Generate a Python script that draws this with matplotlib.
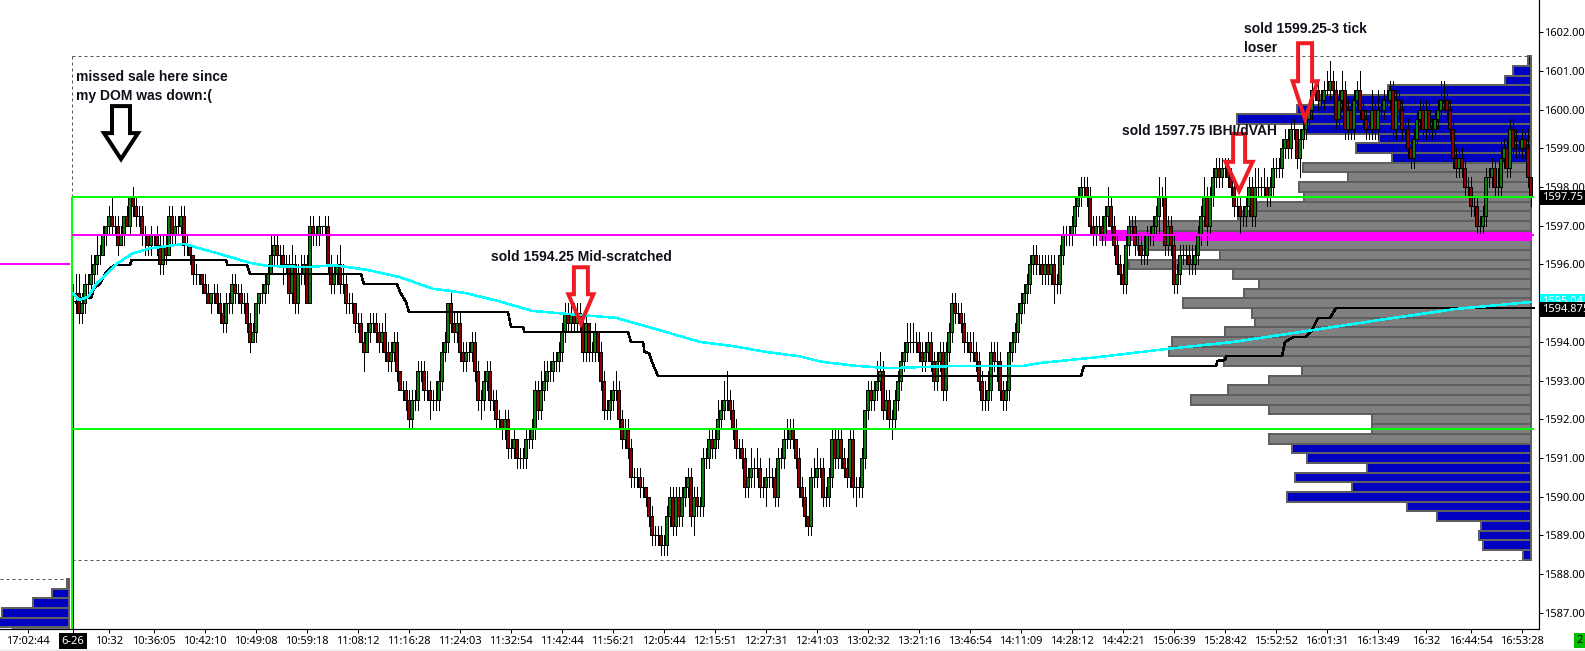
"""
plot.py
Redraws the ES day-session chart: candles, volume profile, value area and trade notes.
"""
import numpy as np
import matplotlib
matplotlib.use('Agg')
import matplotlib.pyplot as plt
from matplotlib.patches import Polygon, Rectangle

# === DATA ===
TICK = 0.25
BASE_PRICE = 1587.0

# closes of the 487 bars, in ticks above BASE_PRICE (each bar opens at the previous close)
close_ticks = [
    33, 33, 31, 32, 34, 34, 35, 36, 37, 37, 39, 40, 41, 40, 40, 38, 39, 41, 40, 43,
    42, 41, 41, 39, 39, 38, 39, 39, 38, 36, 38, 37, 41, 39, 40, 40, 41, 38, 38, 37,
    35, 35, 35, 34, 33, 32, 33, 33, 32, 31, 30, 32, 32, 34, 33, 33, 32, 32, 30, 28,
    29, 32, 33, 33, 34, 35, 37, 38, 37, 37, 36, 36, 33, 36, 32, 35, 35, 36, 32, 40,
    39, 39, 40, 40, 40, 36, 34, 35, 36, 34, 34, 32, 32, 32, 30, 30, 28, 27, 29, 30,
    30, 29, 28, 29, 27, 26, 27, 28, 25, 23, 23, 22, 20, 22, 22, 25, 25, 23, 23, 22,
    22, 22, 24, 27, 28, 32, 30, 29, 30, 27, 26, 27, 27, 28, 25, 22, 22, 24, 25, 22,
    22, 20, 20, 19, 20, 17, 17, 18, 16, 16, 16, 18, 18, 19, 23, 21, 23, 24, 25, 25,
    26, 26, 27, 29, 31, 30, 31, 30, 31, 30, 27, 30, 27, 27, 29, 27, 24, 21, 21, 22,
    23, 23, 20, 18, 19, 17, 14, 14, 14, 13, 13, 12, 10, 8, 8, 8, 7, 7, 10, 12,
    9, 12, 10, 12, 13, 14, 10, 12, 11, 11, 16, 16, 18, 17, 18, 20, 21, 22, 22, 21,
    19, 17, 17, 16, 13, 14, 15, 15, 15, 13, 13, 14, 14, 14, 12, 16, 16, 18, 18, 19,
    18, 16, 13, 12, 10, 9, 14, 14, 15, 15, 12, 12, 14, 18, 16, 18, 16, 15, 14, 18,
    13, 13, 13, 16, 21, 23, 22, 23, 24, 25, 21, 22, 20, 20, 22, 24, 26, 27, 28, 28,
    28, 28, 27, 26, 27, 28, 26, 24, 26, 27, 23, 27, 29, 32, 31, 31, 30, 28, 28, 27,
    27, 26, 24, 22, 22, 23, 27, 26, 26, 23, 22, 23, 27, 28, 29, 31, 32, 33, 34, 36,
    37, 36, 36, 35, 36, 35, 36, 34, 34, 37, 39, 39, 39, 40, 42, 43, 44, 44, 43, 40,
    39, 40, 40, 39, 41, 42, 40, 38, 36, 35, 34, 38, 40, 40, 38, 38, 37, 37, 39, 39,
    40, 41, 43, 43, 38, 40, 38, 34, 35, 37, 37, 37, 36, 36, 37, 39, 41, 43, 40, 43,
    45, 46, 45, 46, 46, 45, 44, 42, 42, 41, 41, 42, 44, 41, 44, 44, 44, 44, 43, 44,
    46, 46, 46, 48, 49, 48, 50, 50, 47, 49, 50, 51, 52, 54, 54, 53, 53, 54, 54, 55,
    54, 51, 53, 54, 50, 52, 50, 53, 54, 52, 51, 50, 50, 52, 50, 52, 52, 53, 53, 54,
    50, 53, 52, 50, 50, 48, 47, 49, 51, 52, 50, 52, 50, 50, 51, 52, 53, 53, 52, 50,
    47, 46, 47, 46, 44, 44, 42, 42, 40, 40, 41, 45, 45, 46, 44, 44, 47, 48, 46, 50,
    48, 48, 48, 49, 48, 45, 43,
]
# wick length above and below each body, in ticks
wick_up = [
    1, 2, 2, 1, 1, 1, 2, 1, 2, 1, 1, 0, 1, 2, 1, 1, 1, 0, 1, 0,
    1, 1, 1, 1, 1, 0, 1, 0, 1, 1, 1, 1, 1, 1, 1, 1, 1, 1, 1, 0,
    0, 1, 0, 0, 1, 1, 0, 1, 1, 1, 1, 1, 1, 1, 1, 1, 1, 1, 1, 1,
    1, 0, 0, 1, 1, 1, 2, 1, 1, 1, 1, 1, 1, 2, 1, 1, 2, 1, 1, 1,
    1, 1, 1, 0, 1, 1, 1, 1, 1, 2, 2, 1, 1, 1, 0, 1, 1, 1, 1, 1,
    1, 1, 1, 1, 2, 1, 1, 1, 1, 0, 1, 1, 1, 1, 1, 1, 1, 1, 2, 1,
    1, 2, 1, 1, 1, 0, 1, 1, 1, 1, 1, 1, 1, 1, 1, 1, 1, 1, 1, 1,
    1, 1, 1, 0, 1, 1, 1, 1, 0, 1, 1, 1, 1, 1, 1, 1, 2, 2, 1, 1,
    1, 1, 1, 1, 1, 1, 1, 1, 1, 1, 1, 1, 0, 1, 1, 0, 1, 1, 1, 1,
    1, 2, 1, 1, 1, 1, 1, 1, 1, 1, 1, 0, 0, 1, 1, 1, 1, 1, 1, 1,
    1, 1, 1, 1, 1, 1, 1, 1, 1, 1, 1, 1, 1, 1, 1, 2, 1, 2, 3, 1,
    1, 1, 1, 1, 1, 1, 2, 1, 2, 1, 1, 1, 2, 1, 1, 1, 1, 1, 2, 1,
    1, 0, 1, 1, 1, 0, 1, 2, 2, 1, 1, 1, 1, 1, 1, 1, 1, 1, 1, 1,
    1, 1, 1, 1, 0, 1, 1, 1, 2, 2, 1, 1, 1, 1, 1, 1, 1, 1, 2, 2,
    2, 1, 1, 1, 1, 1, 1, 1, 1, 1, 1, 1, 1, 1, 1, 1, 1, 1, 1, 1,
    2, 1, 1, 1, 2, 2, 1, 1, 2, 1, 1, 1, 1, 1, 1, 1, 1, 1, 1, 1,
    1, 1, 1, 1, 1, 1, 1, 1, 1, 1, 1, 1, 1, 1, 1, 1, 1, 1, 1, 1,
    1, 1, 1, 1, 1, 2, 1, 1, 1, 1, 1, 1, 1, 1, 1, 1, 1, 2, 1, 1,
    1, 1, 2, 1, 2, 1, 1, 1, 1, 1, 1, 1, 1, 2, 1, 1, 1, 2, 1, 1,
    1, 1, 1, 1, 1, 1, 1, 1, 1, 1, 1, 1, 1, 1, 2, 2, 1, 2, 1, 1,
    1, 1, 1, 1, 1, 1, 1, 1, 0, 1, 1, 1, 1, 1, 1, 1, 1, 1, 2, 2,
    1, 1, 1, 2, 1, 1, 1, 1, 1, 2, 1, 1, 1, 2, 1, 2, 1, 1, 1, 1,
    1, 1, 1, 1, 1, 1, 1, 1, 1, 1, 1, 1, 1, 1, 1, 1, 2, 2, 1, 1,
    1, 1, 1, 1, 1, 1, 1, 1, 1, 1, 1, 1, 1, 1, 1, 2, 2, 1, 1, 1,
    1, 2, 1, 1, 1, 2, 0,
]
wick_down = [
    35, 2, 1, 1, 1, 1, 1, 1, 1, 1, 0, 1, 1, 1, 1, 1, 0, 1, 0, 1,
    1, 1, 1, 1, 2, 1, 1, 1, 1, 1, 1, 1, 0, 1, 1, 1, 1, 1, 1, 1,
    1, 1, 1, 1, 0, 0, 1, 1, 1, 1, 1, 1, 1, 1, 1, 1, 1, 1, 1, 1,
    0, 1, 1, 1, 1, 1, 0, 1, 1, 1, 2, 1, 1, 1, 1, 1, 1, 1, 0, 0,
    1, 1, 1, 1, 1, 1, 1, 1, 1, 1, 1, 1, 1, 1, 1, 1, 0, 2, 0, 1,
    1, 1, 1, 1, 1, 1, 1, 1, 1, 0, 1, 1, 1, 1, 1, 1, 1, 1, 1, 2,
    1, 1, 1, 1, 1, 1, 1, 1, 1, 1, 1, 1, 1, 1, 1, 1, 2, 1, 1, 1,
    1, 1, 1, 1, 1, 1, 1, 1, 1, 1, 1, 1, 1, 1, 1, 1, 1, 1, 1, 1,
    1, 1, 1, 1, 1, 1, 1, 1, 1, 1, 1, 1, 1, 1, 1, 1, 1, 1, 1, 1,
    1, 1, 1, 1, 1, 1, 1, 1, 1, 1, 1, 1, 1, 1, 1, 1, 1, 1, 1, 1,
    1, 1, 1, 1, 1, 1, 1, 2, 1, 1, 1, 1, 1, 1, 1, 1, 1, 1, 1, 1,
    1, 1, 1, 1, 1, 1, 1, 2, 1, 1, 1, 2, 1, 1, 1, 1, 1, 1, 1, 1,
    1, 1, 1, 1, 1, 1, 1, 1, 1, 1, 1, 1, 1, 1, 1, 1, 1, 1, 1, 1,
    1, 2, 1, 1, 1, 1, 1, 1, 1, 1, 1, 1, 1, 2, 1, 1, 1, 1, 1, 1,
    1, 1, 1, 1, 1, 1, 1, 1, 1, 1, 1, 1, 1, 1, 1, 1, 1, 1, 1, 1,
    1, 1, 1, 1, 1, 1, 1, 1, 2, 1, 1, 1, 1, 1, 1, 1, 1, 1, 1, 1,
    1, 1, 1, 1, 1, 1, 1, 2, 1, 1, 1, 1, 1, 1, 1, 1, 1, 1, 1, 1,
    1, 1, 1, 1, 1, 1, 1, 1, 1, 1, 1, 1, 1, 1, 1, 1, 1, 1, 1, 1,
    1, 1, 2, 1, 1, 1, 1, 1, 1, 1, 1, 1, 1, 1, 1, 1, 1, 1, 2, 1,
    1, 1, 1, 1, 1, 1, 1, 1, 1, 2, 1, 1, 1, 1, 1, 1, 1, 1, 1, 1,
    1, 1, 1, 1, 1, 1, 1, 1, 1, 2, 1, 1, 1, 1, 1, 1, 1, 1, 1, 1,
    1, 1, 1, 1, 1, 1, 1, 1, 1, 1, 1, 1, 1, 1, 1, 1, 1, 1, 1, 1,
    1, 1, 1, 1, 1, 1, 1, 1, 1, 1, 1, 1, 1, 1, 1, 1, 1, 1, 1, 1,
    1, 1, 1, 1, 1, 1, 1, 1, 1, 1, 1, 1, 1, 1, 1, 1, 1, 1, 1, 1,
    1, 1, 1, 1, 1, 1, 1,
]

# moving average and stepped average price, as (bar, price) readings
ma_bars = [0, 2, 5, 8, 15, 20, 26, 37, 48, 59, 65, 78, 87, 98, 109, 120, 131, 142, 153, 165, 181,
           192, 209, 220, 231, 242, 250, 261, 272, 283, 295, 306, 317, 322, 342, 365, 387, 413,
           435, 461, 486]
ma_prices = [1595.24, 1595.08, 1595.16, 1595.52, 1596.04, 1596.29, 1596.42, 1596.53, 1596.29,
             1596.04, 1595.96, 1595.93, 1595.98, 1595.86, 1595.67, 1595.37, 1595.26, 1595.05,
             1594.80, 1594.72, 1594.62, 1594.38, 1594.00, 1593.89, 1593.74, 1593.63, 1593.48,
             1593.38, 1593.32, 1593.35, 1593.38, 1593.38, 1593.38, 1593.45, 1593.61, 1593.82,
             1594.00, 1594.30, 1594.56, 1594.85, 1595.03]
avg_bars = [1, 3, 6, 7, 9, 11, 13, 14, 19, 19.5, 51, 51.5, 58, 59, 96, 97, 108, 109, 111, 112,
            145, 146, 150, 150.5, 185, 186, 190, 190.5, 192, 193, 195, 336, 337, 381, 381.5,
            384, 384.5, 403, 404, 407, 411, 413, 415, 419, 421, 487]
avg_prices = [1595.03, 1595.13, 1595.13, 1595.39, 1595.50, 1595.80, 1595.93, 1595.98, 1595.98,
              1596.11, 1596.11, 1595.98, 1595.98, 1595.75, 1595.75, 1595.49, 1595.49, 1595.29,
              1595.03, 1594.77, 1594.77, 1594.38, 1594.38, 1594.25, 1594.25, 1594.00, 1594.00,
              1593.74, 1593.71, 1593.48, 1593.12, 1593.12, 1593.38, 1593.38, 1593.51, 1593.53,
              1593.63, 1593.63, 1594.00, 1594.13, 1594.13, 1594.30, 1594.62, 1594.62, 1594.87,
              1594.87]

# volume profile, one row per tick from 1588.50 up, width in bars
profile_low = 1588.5
profile_vol = [2.6, 15.9, 17.2, 16.6, 31.2, 41.2, 81.2, 59.6, 78.6, 54.6, 74.6, 79.6,
               87.2, 52.9, 52.9, 87.2, 113.2, 100.9, 87.2, 76.2, 102.2, 120.6, 119.6, 101.9,
               91.9, 92.9, 115.9, 95.6, 90.6, 99.2, 133.9, 103.6, 130.9, 143.6, 133.6, 97.6,
               91.2, 75.6, 77.2, 60.9, 75.9,
               46.2, 58.2, 50.6, 75.2, 97.9, 77.9, 70.2, 47.6, 8.6, 5.9, 0.9]
VALUE_LOW = 1591.5
VALUE_HIGH = 1598.5
POC_PRICE = 1596.75

# tail of the previous session's profile
prev_prices = [1587.75, 1587.5, 1587.25, 1587.0, 1586.75, 1586.5]
prev_vol = [0.7, 5.7, 12.0, 22.3, 24.0, 18.7]
prev_colors = ['#0000c0', '#0000c0', '#0000c0', '#0000c0', '#0000c0', '#808080']

IB_HIGH = 1597.75
IB_LOW = 1591.75
DAY_HIGH = 1601.375
DAY_LOW = 1588.375
PREV_HIGH = 1587.875
PREV_POC = 1596.0
LAST_PRICE = 1597.75
AVG_PRICE = 1594.875

price_ticks = [1587, 1588, 1589, 1590, 1591, 1592, 1593, 1594, 1595, 1596, 1597, 1598, 1599, 1600, 1601, 1602]
price_labels = ['1587.00', '1588.00', '1589.00', '1590.00', '1591.00', '1592.00', '1593.00', '1594.00',
                '', '1596.00', '1597.00', '1598.00', '1599.00', '1600.00', '1601.00', '1602.00']
time_ticks = [-15, 0, 12, 27, 44, 61, 78, 95, 112, 129, 146, 163, 180, 197, 214, 231, 248, 265, 282,
              299, 316, 333, 350, 367, 384, 401, 418, 435, 451, 466, 483]
time_labels = ['17:02:44', '6-26', '10:32', '10:36:05', '10:42:10', '10:49:08', '10:59:18', '11:08:12',
               '11:16:28', '11:24:03', '11:32:54', '11:42:44', '11:56:21', '12:05:44', '12:15:51',
               '12:27:31', '12:41:03', '13:02:32', '13:21:16', '13:46:54', '14:11:09', '14:28:12',
               '14:42:21', '15:06:39', '15:28:42', '15:52:52', '16:01:31', '16:13:49', '16:32',
               '16:44:54', '16:53:28']

# === LAYOUT ===
W, H = 1585, 651
AX_RIGHT, AX_BOTTOM = 1538.5, 629
PX_PER_BAR = 3.0
PX_PER_POINT = 38.72
X0_PX = 73
PROFILE_RIGHT = 485.9
FONT = 'Noto Sans'
LABEL_SIZE = 8.0
PX = 0.72  # one pixel in points at dpi 100

plt.rcParams['font.family'] = [FONT, 'DejaVu Sans']
fig = plt.figure(figsize=(W / 100, H / 100), dpi=100)
ax = fig.add_axes([0, (H - AX_BOTTOM) / H, AX_RIGHT / W, AX_BOTTOM / H])
ax.set_xlim(-X0_PX / PX_PER_BAR, (AX_RIGHT - X0_PX) / PX_PER_BAR)
ax.set_ylim(BASE_PRICE + (612.9 - AX_BOTTOM) / PX_PER_POINT, BASE_PRICE + 612.9 / PX_PER_POINT)

# === VOLUME PROFILE ===
profile_prices = profile_low + TICK * np.arange(len(profile_vol))
profile_colors = []
for p in profile_prices:
    if p == POC_PRICE:
        profile_colors.append('#ff00ff')
    elif VALUE_LOW <= p <= VALUE_HIGH:
        profile_colors.append('#808080')
    else:
        profile_colors.append('#0000c0')
profile_edges = ['#ff00ff' if c == '#ff00ff' else '#5f5f5f' for c in profile_colors]
ax.barh(profile_prices, -np.array(profile_vol), left=PROFILE_RIGHT, height=TICK,
        color=profile_colors, edgecolor=profile_edges, linewidth=2 * PX, antialiased=False, zorder=1)
ax.barh(prev_prices, -np.array(prev_vol), left=-1.33, height=TICK,
        color=prev_colors, edgecolor='#5f5f5f', linewidth=2 * PX, antialiased=False, zorder=1)

# === CANDLES ===
closes = BASE_PRICE + TICK * np.array(close_ticks)
opens = np.concatenate(([closes[0]], closes[:-1]))
bars = np.arange(len(closes))
tops = np.maximum(opens, closes)
lows = np.minimum(opens, closes)
highs = tops + TICK * np.array(wick_up)
bottoms = lows - TICK * np.array(wick_down)

ax.vlines(bars, bottoms, highs, color='black', linewidth=PX, antialiased=False, zorder=2)
is_up = closes > opens
is_down = closes < opens
is_flat = closes == opens
ax.hlines(closes[is_flat], bars[is_flat] - 0.5, bars[is_flat] + 0.5, color='black', linewidth=PX,
          antialiased=False, zorder=2)
ax.bar(bars[is_up], (closes - opens)[is_up], bottom=opens[is_up], width=1.0, color='#0a7d0a',
       edgecolor='black', linewidth=PX, antialiased=False, zorder=2.1)
ax.bar(bars[is_down], (opens - closes)[is_down], bottom=closes[is_down], width=1.0, color='#8b0000',
       edgecolor='black', linewidth=PX, antialiased=False, zorder=2.1)

# === LEVELS ===
level_style = dict(linewidth=2 * PX, antialiased=False, zorder=3)
ax.hlines([IB_HIGH, IB_LOW], -0.33, 487, color='#00ff00', **level_style)
ax.vlines(-0.33, ax.get_ylim()[0], IB_HIGH, color='#00ff00', **level_style)
ax.hlines(POC_PRICE, -0.33, 487, color='#ff00ff', **level_style)
ax.hlines(PREV_POC, ax.get_xlim()[0], -1, color='#ff00ff', **level_style)
dash_style = dict(color='#555555', linewidth=PX, linestyles=(0, (3, 3)), zorder=1.5)
ax.hlines([DAY_HIGH, DAY_LOW], -0.33, PROFILE_RIGHT, **dash_style)
ax.vlines(-0.33, IB_HIGH, DAY_HIGH, **dash_style)
ax.hlines(PREV_HIGH, ax.get_xlim()[0], -1, **dash_style)

ax.plot(ma_bars, ma_prices, color='#00ffff', linewidth=1.5 * PX, antialiased=False, zorder=3.2)
ax.plot(avg_bars, avg_prices, color='black', linewidth=1.5 * PX, antialiased=False, zorder=3.1)


# === TRADE NOTES ===
def draw_arrow(bar, tip_price, to_shoulder, to_top, half_width, half_stem, color):
    # sizes are in pixels, the tip sits on (bar, tip_price)
    dx = lambda v: v / PX_PER_BAR
    dy = lambda v: v / PX_PER_POINT
    pts = [(bar, tip_price),
           (bar + dx(half_width), tip_price + dy(to_shoulder)),
           (bar + dx(half_stem), tip_price + dy(to_shoulder)),
           (bar + dx(half_stem), tip_price + dy(to_top)),
           (bar - dx(half_stem), tip_price + dy(to_top)),
           (bar - dx(half_stem), tip_price + dy(to_shoulder)),
           (bar - dx(half_width), tip_price + dy(to_shoulder))]
    ax.add_patch(Polygon(pts, closed=True, facecolor='none', edgecolor=color, linewidth=4 * PX,
                         joinstyle='miter', zorder=5))


draw_arrow(16, 1598.72, 26, 53, 17, 9, 'black')
draw_arrow(410.7, 1599.75, 38, 76, 12.5, 7, '#ee1c25')
draw_arrow(388.7, 1597.9, 29, 57, 13.5, 6, '#ee1c25')
draw_arrow(169.3, 1594.48, 29, 56, 12.5, 7, '#ee1c25')

note_style = dict(fontsize=10.0, fontweight='bold', family='Liberation Sans', color='#10101a',
                  va='center', ha='left', zorder=6)
ax.text(1, 1600.59, 'missed sale here since\nmy DOM was down:(', linespacing=1.5, **note_style)
ax.text(390.3, 1601.83, 'sold 1599.25-3 tick\nloser', linespacing=1.5, **note_style)
ax.text(349.7, 1599.45, 'sold 1597.75 IBHI/dVAH', **note_style)
ax.text(139.3, 1596.19, 'sold 1594.25 Mid-scratched', **note_style)

# === AXES ===
ax.yaxis.tick_right()
ax.set_yticks(price_ticks)
ax.set_yticklabels(price_labels)
ax.set_xticks(time_ticks)
ax.set_xticklabels(time_labels)
ax.tick_params(axis='both', length=3, width=PX, labelsize=LABEL_SIZE, colors='black')
ax.tick_params(axis='y', pad=0.8)
ax.tick_params(axis='x', pad=2)
for side in ['top', 'left']:
    ax.spines[side].set_visible(False)
for side in ['right', 'bottom']:
    ax.spines[side].set_linewidth(PX * 1.2)

date_label = ax.get_xticklabels()[1]
date_label.set_color('white')
date_label.set_bbox(dict(facecolor='black', edgecolor='none', pad=2))

# price boxes on the scale
box_x = 1 + 4 / AX_RIGHT
box_tr = ax.get_yaxis_transform()
ax.text(box_x, 1595.04, '1595.04', transform=box_tr, color='white', fontsize=LABEL_SIZE, va='center', ha='left',
        bbox=dict(facecolor='#00ffff', edgecolor='none', pad=1.5), clip_on=False, zorder=7)
ax.text(box_x, AVG_PRICE - 0.03, '1594.875', transform=box_tr, color='white', fontsize=LABEL_SIZE, va='center',
        ha='left', bbox=dict(facecolor='black', edgecolor='none', pad=1.5), clip_on=False, zorder=8)
ax.text(box_x, LAST_PRICE - 0.03, '1597.75', transform=box_tr, color='white', fontsize=LABEL_SIZE, va='center',
        ha='left', bbox=dict(facecolor='black', edgecolor='none', pad=1.5), clip_on=False, zorder=8)

# window furniture at the bottom
fig.patches.append(Rectangle((0, 0), 1, 2.5 / H, transform=fig.transFigure, facecolor='#f0f0f0', edgecolor='none'))
fig.patches.append(Rectangle((1574 / W, 3 / H), 11 / W, 15 / H, transform=fig.transFigure,
                             facecolor='#00c000', edgecolor='none'))
fig.text(1580 / W, 10.5 / H, '2', fontsize=LABEL_SIZE, ha='center', va='center', color='black')

fig.savefig('out.png', dpi=100)
plt.close(fig)
